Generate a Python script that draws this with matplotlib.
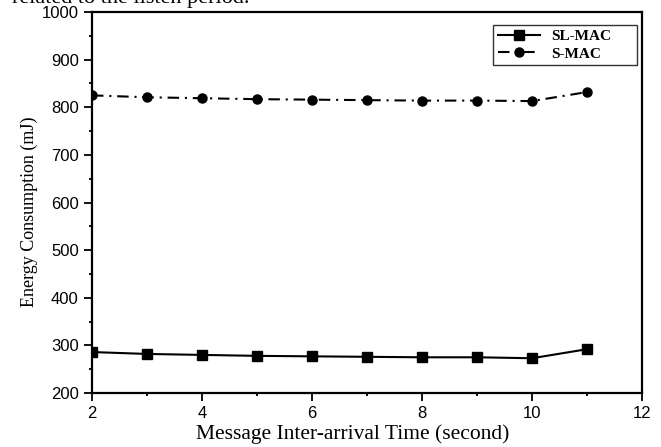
import numpy as np
import matplotlib.pyplot as plt
from matplotlib.ticker import MultipleLocator

# values
x = [2, 3, 4, 5, 6, 7, 8, 9, 10, 11]
sl_mac = [286, 282, 280, 278, 277, 276, 275, 275, 273, 292]
s_mac = [825, 821, 819, 817, 816, 815, 814, 814, 813, 832]

fig = plt.figure(figsize=(6.61, 4.47), dpi=100)
ax = fig.add_axes([0.1392, 0.1208, 0.8321, 0.8523])

ax.plot(x, sl_mac, color="black", lw=1.5, marker="s", ms=6.5, label="SL-MAC")
ax.plot(x, s_mac, color="black", lw=1.5, ls=(0, (5.5, 2.8, 1, 2.8)), marker="o", ms=6.5,
        label="S-MAC")

ax.set_xlim(2, 12)
ax.set_ylim(200, 1000)
ax.xaxis.set_major_locator(MultipleLocator(2))
ax.xaxis.set_minor_locator(MultipleLocator(1))
ax.yaxis.set_major_locator(MultipleLocator(100))
ax.yaxis.set_minor_locator(MultipleLocator(50))
ax.tick_params(which="major", direction="out", length=5.5, width=1.3, labelsize=12, pad=4)
ax.tick_params(which="minor", direction="out", length=2.5, width=1.3)
for lab in ax.get_xticklabels() + ax.get_yticklabels():
    lab.set_family("Liberation Sans")
for s in ax.spines.values():
    s.set_linewidth(1.6)

ax.set_xlabel("Message Inter-arrival Time (second)", family="Liberation Serif", fontsize=15.5)
ax.xaxis.set_label_coords(0.4745, -0.081)
ax.set_ylabel("Energy Consumption (mJ)", family="Liberation Serif", fontsize=13)
ax.yaxis.set_label_coords(-0.098, 0.475)

leg = ax.legend(loc="upper left", bbox_to_anchor=(0.729, 0.853, 0.262, 0.113), mode="expand",
                borderaxespad=0, fancybox=False, edgecolor="black",
                prop={"family": "Liberation Serif", "weight": "bold", "size": 11},
                handlelength=2.8, handletextpad=0.7, borderpad=0.3, labelspacing=0.25)
leg.get_frame().set_linewidth(1.0)

# caption line of the page, cut off at the top edge as in the source
fig.text(12 / 661, 1 - 3 / 447, "related to the listen period.", family="Liberation Serif",
         fontsize=16, va="baseline", ha="left")

fig.savefig("out.png", dpi=100)
